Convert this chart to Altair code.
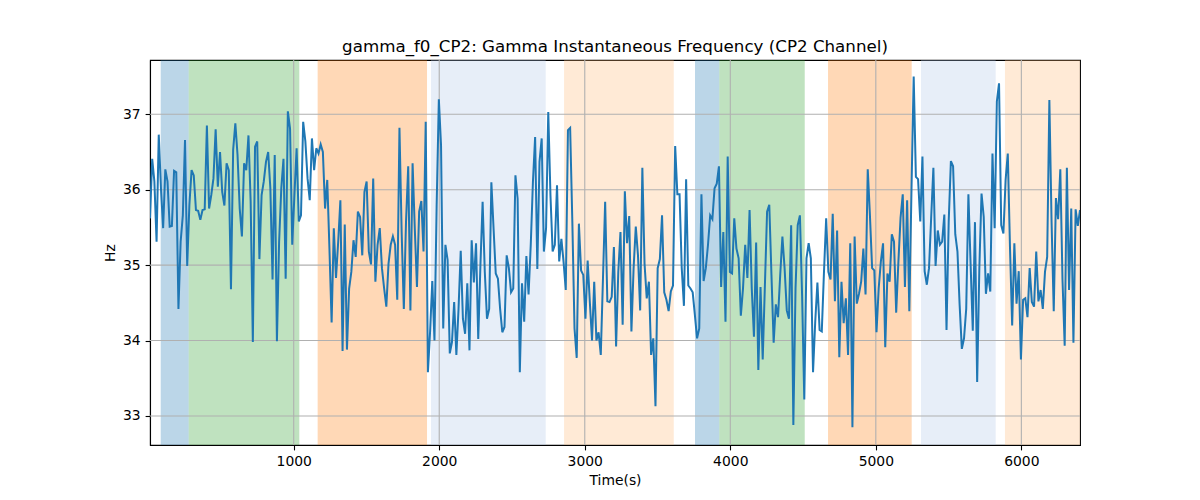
import altair as alt
import numpy as np
import pandas as pd

# ---- data ----
t_start = 12.5
t_end = 6403.0

hz_part1 = [35.62, 36.41, 36.11, 35.31, 36.73, 36.02, 35.49, 36.27, 36.11, 35.51,
            35.52, 36.25, 36.23, 34.42, 35.31, 35.66, 36.66, 34.99, 35.80, 36.26,
            36.19, 35.73, 35.72, 35.60, 35.73, 35.74, 36.85, 35.75, 35.93, 36.15,
            36.80, 36.04, 36.50, 35.97, 35.79, 36.35, 36.26, 34.68, 36.53, 36.88,
            36.46, 35.75, 35.38, 36.35, 36.26, 36.72, 35.84, 33.98, 36.57, 36.64,
            35.08, 35.93, 36.11]
hz_part2 = [36.37, 36.50, 36.02, 34.81, 36.46, 33.99, 35.31, 36.02, 36.41, 34.82,
            37.04, 36.81, 35.27, 35.93, 36.55, 35.58, 35.66, 36.90, 36.64, 36.15,
            35.86, 36.68, 36.26, 36.55, 36.48, 36.60, 36.50, 35.75, 36.13, 35.22,
            34.24, 35.49, 34.83, 35.31, 35.86, 33.86, 35.54, 33.88, 34.69, 34.91,
            35.33, 35.11, 35.71, 35.64, 35.13, 35.97, 36.11, 35.18, 35.01, 36.15,
            34.78, 35.27, 35.49, 34.96]
hz_part3 = [34.69, 34.45, 35.02, 35.27, 35.38, 35.27, 34.54, 36.82, 35.44, 34.42,
            35.58, 36.31, 34.40, 36.35, 35.49, 34.71, 35.71, 35.85, 35.18, 36.90,
            33.58, 34.12, 34.79, 34.00, 35.80, 37.20, 36.59, 34.16, 35.27, 35.07,
            33.83, 33.98, 34.51, 33.81, 34.42, 35.19, 34.29, 34.09, 34.76, 33.87,
            35.33, 34.77, 35.29, 34.02, 35.00, 35.84, 34.91, 34.29, 34.42, 36.10,
            35.49, 34.89, 34.82, 34.42]
hz_part4 = [34.11, 34.18, 35.13, 34.96, 34.64, 34.69, 36.19, 35.88, 33.58, 34.76,
            34.25, 35.12, 34.61, 35.27, 36.11, 36.70, 34.95, 36.37, 36.68, 35.18,
            35.49, 37.03, 35.93, 35.18, 35.27, 36.06, 35.05, 35.35, 35.04, 34.67,
            36.79, 36.82, 35.58, 34.16, 33.77, 35.55, 34.93, 34.87, 34.29, 35.06,
            34.51, 34.00, 34.78, 34.00, 34.11, 33.81, 34.82, 35.84, 34.52, 34.51,
            34.58, 35.24, 33.92, 34.91]
hz_part5 = [35.44, 34.21, 35.98, 35.29, 35.65, 34.12, 34.96, 35.51, 35.13, 34.40,
            36.29, 35.02, 34.56, 34.78, 33.81, 34.03, 33.13, 34.96, 35.08, 35.66,
            34.64, 34.54, 34.39, 34.65, 34.73, 36.58, 35.94, 35.94, 34.96, 34.46,
            36.14, 34.73, 34.69, 34.64, 34.34, 34.03, 34.16, 35.94, 34.79, 34.96,
            35.27, 35.66, 35.61, 36.02, 36.08, 36.31, 34.71, 35.44, 34.25, 36.44,
            34.91, 34.89, 35.62]
hz_part6 = [35.22, 35.09, 34.33, 34.69, 35.27, 34.83, 35.73, 34.69, 34.05, 35.30,
            33.61, 34.71, 33.75, 34.73, 35.71, 35.80, 34.87, 33.97, 34.48, 34.31,
            34.87, 35.38, 34.96, 34.40, 34.29, 35.53, 32.88, 34.69, 35.53, 35.66,
            34.60, 33.22, 35.09, 35.29, 35.09, 33.58, 34.25, 34.77, 34.14, 34.12,
            34.91, 35.62, 34.91, 34.81, 35.68, 34.52, 35.46, 33.78, 34.78, 34.23,
            34.56, 33.81, 35.29, 32.85]
hz_part7 = [35.38, 34.49, 34.62, 34.78, 35.22, 34.61, 36.27, 35.66, 34.96, 34.93,
            34.11, 34.69, 35.05, 35.29, 33.91, 34.89, 34.78, 35.41, 35.31, 34.37,
            35.04, 35.63, 35.94, 34.71, 35.86, 34.39, 36.02, 37.50, 36.17, 36.14,
            35.58, 36.44, 34.92, 34.74, 34.96, 35.64, 36.29, 34.99, 35.46, 35.27,
            35.31, 35.67, 34.14, 35.58, 36.38, 36.31, 35.41, 35.18, 34.47, 33.89,
            34.03, 34.42, 35.94]
hz_part8 = [35.02, 34.13, 35.57, 33.45, 34.96, 35.95, 35.64, 34.62, 34.89, 34.65,
            36.48, 35.49, 37.17, 37.41, 35.53, 35.42, 36.13, 36.48, 35.24, 34.20,
            35.29, 34.49, 34.92, 33.75, 34.54, 34.56, 34.31, 34.96, 34.51, 34.45,
            35.18, 34.52, 34.67, 34.42, 34.91, 35.11, 37.19, 35.58, 34.39, 35.89,
            35.61, 36.27, 34.81, 33.93, 36.29, 34.67, 35.75, 33.97, 35.74, 35.52,
            35.73]

band_start = [86, 278.5, 1164.5, 1943.5, 2857.5, 3757.5, 3924.5, 4671.5, 5310.5, 5887.5]
band_end = [278.5, 1038.5, 1916, 2731.5, 3611.5, 3924.5, 4511.5, 5246.5, 5823.5, 6500]
band_kind = ["a", "b", "c", "d", "e", "a", "b", "c", "d", "e"]
kind_names = ["a", "b", "c", "d", "e"]
kind_colors = ["#1f77b4", "#2ca02c", "#ff7f0e", "#aec7e8", "#ffbb78"]

x_ticks = [1000, 2000, 3000, 4000, 5000, 6000]
y_ticks = [33, 34, 35, 36, 37]
x_domain = [t_start, t_end]
y_domain = [32.615, 37.72]

# ---- tables ----
hz = (hz_part1 + hz_part2 + hz_part3 + hz_part4 + hz_part5 + hz_part6
      + hz_part7 + hz_part8)
time = np.linspace(t_start, t_end, len(hz))
df_line = pd.DataFrame({"t": time, "hz": hz})
df_bands = pd.DataFrame({"start": band_start, "end": band_end, "kind": band_kind})
df_xt = pd.DataFrame({"v": x_ticks})
df_yt = pd.DataFrame({"v": y_ticks})

xs = alt.Scale(domain=x_domain, nice=False, zero=False)
ys = alt.Scale(domain=y_domain, nice=False, zero=False)

bands = alt.Chart(df_bands).mark_rect(opacity=0.3, clip=True).encode(
    x=alt.X("start:Q", scale=xs, title="Time(s)",
            axis=alt.Axis(values=x_ticks, format="d")),
    x2="end:Q",
    color=alt.Color("kind:N", scale=alt.Scale(domain=kind_names, range=kind_colors),
                    legend=None),
)

grid_x = alt.Chart(df_xt).mark_rule(color="#b0b0b0", strokeWidth=1.1).encode(
    x=alt.X("v:Q", scale=xs)
)
grid_y = alt.Chart(df_yt).mark_rule(color="#b0b0b0", strokeWidth=1.1).encode(
    y=alt.Y("v:Q", scale=ys)
)

line = alt.Chart(df_line).mark_line(color="#1f77b4", strokeWidth=2.0, clip=True).encode(
    x=alt.X("t:Q", scale=xs),
    y=alt.Y("hz:Q", scale=ys, title="Hz", axis=alt.Axis(values=y_ticks, format="d")),
)

chart = alt.layer(bands, grid_x, grid_y, line).properties(
    width=930,
    height=385,
    title=alt.TitleParams(
        "gamma_f0_CP2: Gamma Instantaneous Frequency (CP2 Channel)",
        font="DejaVu Sans", fontSize=16.7, fontWeight="normal", color="black",
        anchor="middle", offset=4,
    ),
    autosize=alt.AutoSizeParams(type="none"),
    padding={"left": 142, "top": 52, "right": 112, "bottom": 47},
).configure_view(
    stroke="black", strokeWidth=1.1
).configure_axis(
    grid=False,
    domainColor="black", domainWidth=1.1,
    tickColor="black", tickSize=4.9, tickWidth=1.1,
    labelFont="DejaVu Sans", labelFontSize=13.9, labelColor="black", labelPadding=4.9,
    titleFont="DejaVu Sans", titleFontSize=13.9, titleColor="black",
    titleFontWeight="normal",
).configure_axisX(titlePadding=5).configure_axisY(titlePadding=5)

chart.save("out.html", embed_options={"renderer": "svg", "actions": False})
